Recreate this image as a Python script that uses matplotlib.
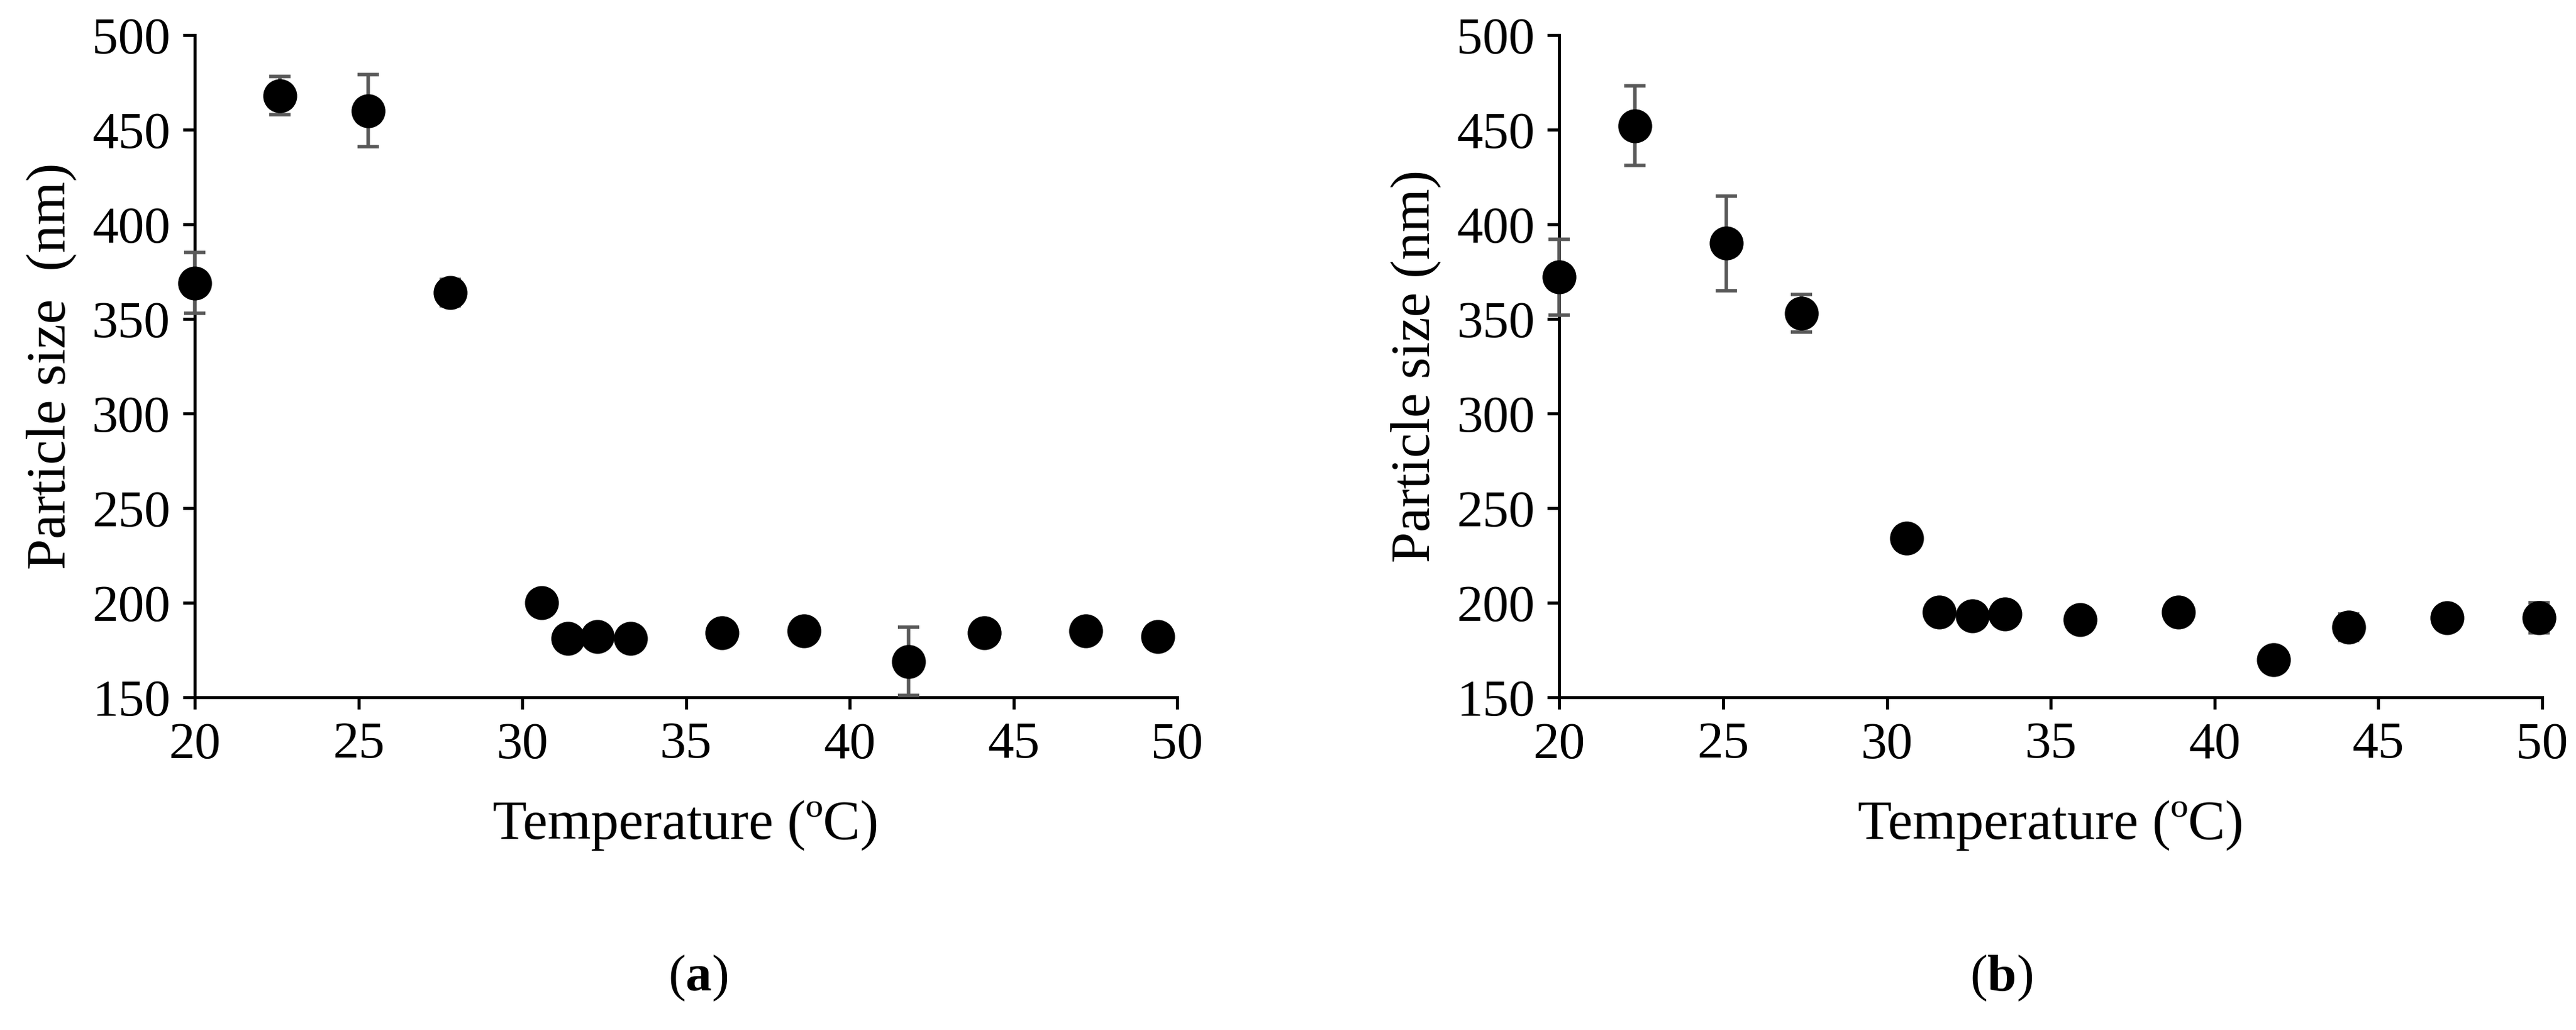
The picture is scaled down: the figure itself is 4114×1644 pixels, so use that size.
import matplotlib
matplotlib.use("Agg")
import matplotlib.pyplot as plt

temp_a = [20.0, 22.6, 25.3, 27.8, 30.6, 31.4, 32.3, 33.3, 36.1, 38.6, 41.8, 44.1, 47.2, 49.4]
size_a = [369, 468, 460, 364, 200, 181, 182, 181, 184, 185, 169, 184, 185, 182]
err_a = [16, 10, 19, 7, 3, 3, 4, 3, 3, 3, 18, 5, 3, 3]

temp_b = [20.0, 22.3, 25.1, 27.4, 30.6, 31.6, 32.6, 33.6, 35.9, 38.9, 41.8, 44.1, 47.1, 49.9]
size_b = [372, 452, 390, 353, 234, 195, 193, 194, 191, 195, 170, 187, 192, 192]
err_b = [20, 21, 25, 10, 6, 3, 3, 3, 3, 3, 3, 7, 3, 8]

xticks = [20, 25, 30, 35, 40, 45, 50]
yticks = [150, 200, 250, 300, 350, 400, 450, 500]

plt.rcParams['font.family'] = ['Liberation Serif', 'DejaVu Serif']
plt.rcParams['mathtext.fontset'] = 'custom'
plt.rcParams['mathtext.rm'] = 'Liberation Serif'
plt.rcParams['mathtext.bf'] = 'Liberation Serif:bold'
fig = plt.figure(figsize=(41.14, 16.44), dpi=100)
axes = [fig.add_axes([0.0756, 0.323, 0.3814, 0.643]),
        fig.add_axes([0.6053, 0.323, 0.3816, 0.643])]
for ax, t, s, e, lab, xc in [(axes[0], temp_a, size_a, err_a, r'($\mathbf{a}$)', 0.271),
                             (axes[1], temp_b, size_b, err_b, r'($\mathbf{b}$)', 0.777)]:
    ax.errorbar(t, s, yerr=e, fmt='o', color='black', markersize=38,
                ecolor='#595959', elinewidth=4, capsize=12, capthick=4, clip_on=False, zorder=3)
    ax.set_xlim(20, 50)
    ax.set_ylim(150, 500)
    ax.set_xticks(xticks)
    ax.set_yticks(yticks)
    for sp in ['top', 'right']:
        ax.spines[sp].set_visible(False)
    for sp in ['left', 'bottom']:
        ax.spines[sp].set_linewidth(3.5)
    ax.tick_params(labelsize=60, width=3.5, length=14, direction='out', pad=14)
    ax.set_xlabel('Temperature (ºC)', fontsize=64, labelpad=36)
    ax.set_ylabel('Particle size  (nm)' if xc < 0.5 else 'Particle size (nm)', fontsize=64, labelpad=18)
    fig.text(xc, 0.05, lab, fontsize=60, ha='center', va='center')

fig.savefig('out.png', dpi=100)
